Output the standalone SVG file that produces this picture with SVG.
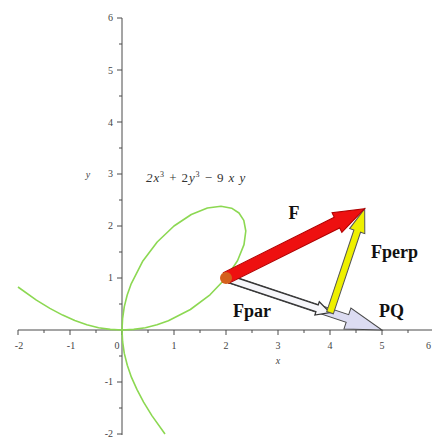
<svg xmlns="http://www.w3.org/2000/svg" width="432" height="441" viewBox="0 0 432 441">
<style>
.ax{stroke:#4a4a4a;stroke-width:1;fill:none}
.tk{font-family:"Liberation Serif",serif;font-size:10px;fill:#444}
.lab{font-family:"Liberation Serif",serif;font-size:18px;font-weight:bold;fill:#111}
.curve{fill:none;stroke:#8cd852;stroke-width:1.6;stroke-linejoin:round}
.math{font-family:"Liberation Serif",serif;font-size:13px;fill:#333;font-style:italic;letter-spacing:0.9px}
</style>
<rect width="432" height="441" fill="#fff"/>
<g id="axes">
<path class="ax" d="M18 330H432M122 18V435"/>
<path class="ax" d="M18 330v5M70 330v5M122 330v5M174 330v5M226 330v5M278 330v5M330 330v5M382 330v5M44 330v3M96 330v3M148 330v3M200 330v3M252 330v3M304 330v3M356 330v3M408 330v3"/>
<path class="ax" d="M117 18h5M117 70h5M117 122h5M117 174h5M117 226h5M117 278h5M117 382h5M117 434h5M119 44h3M119 96h3M119 148h3M119 200h3M119 252h3M119 304h3M119 356h3M119 408h3"/>
<g class="tk" text-anchor="middle">
<text x="19" y="349">-2</text><text x="71" y="349">-1</text><text x="117" y="349">0</text><text x="174" y="349">1</text><text x="226" y="349">2</text><text x="278" y="349">3</text><text x="330" y="349">4</text><text x="382" y="349">5</text><text x="431" y="349" text-anchor="end">6</text>
</g>
<g class="tk" text-anchor="end">
<text x="113" y="21">6</text><text x="113" y="74">5</text><text x="113" y="126">4</text><text x="113" y="177">3</text><text x="113" y="229">2</text><text x="113" y="281">1</text><text x="113" y="385">-1</text><text x="113" y="437">-2</text>
</g>
<text class="tk" x="278" y="364" text-anchor="middle" font-style="italic">x</text>
<text class="tk" x="88" y="178" text-anchor="middle" font-style="italic">y</text>
</g>
<g id="curve">
<path class="curve" d="M122 330L133.7 329.4L145.4 327.7L157 324.8L168.4 320.7L190.4 309.5L210 294.8L226 278L237.5 260.7L244 244.6L245.8 231L243.8 220.4L239 213L231.6 208.2L221 206.2L207.4 208L191.3 214.5L174 226L157.2 242L142.5 261.6L131.3 283.6L127.2 295L124.3 306.6L122.6 318.3L122 330"/>
<path class="curve" d="M18 287L36.4 300.1L49.9 308.4L62.6 315.1L74.8 320.6L86.8 324.7L98.6 327.7L110.3 329.4L122 330"/>
<path class="curve" d="M165 434L151.9 415.6L143.6 402.2L136.9 389.4L131.4 377.2L127.3 365.2L124.3 353.4L122.6 341.7L122 330"/>
</g>
<g id="formula">
<text class="math" x="146" y="182">2x<tspan font-size="8" dy="-5" font-style="normal">3</tspan><tspan dy="5" font-style="normal"> + 2</tspan>y<tspan font-size="8" dy="-5" font-style="normal">3</tspan><tspan dy="5" font-style="normal"> − 9</tspan> x y</text>
</g>
<g id="connectors">
<g id="PQ" transform="translate(226 278) rotate(18.43)">
<polygon points="0,-4 128,-4 128,-11 164.4,0 128,11 128,4 0,4" fill="#dcdcf2" stroke="#4a4a4a" stroke-width="1"/>
</g>
<g id="Fpar" transform="translate(226 278) rotate(18.43)">
<polygon points="0,-3.5 96,-3.5 96,-7 109.6,0 96,7 96,3.5 0,3.5" fill="#f6f6fa" stroke="#333" stroke-width="1.2"/>
</g>
<g id="Fperp" transform="translate(330 312.7) rotate(-71.55)">
<polygon points="0,-3.5 86,-3.5 86,-8 109.6,0 86,8 86,3.5 0,3.5" fill="#eef000" stroke="#555" stroke-width="1"/>
</g>
<g id="F" transform="translate(226 278) rotate(-26.55)">
<polygon points="0,-6 124,-6 124,-11 155,0 124,11 124,6 0,6" fill="#ee1010" stroke="#b00000" stroke-width="1"/>
</g>
</g>
<g id="P">
<circle cx="226" cy="278" r="6" fill="#d4601c"/>
</g>
<g id="labels">
<text class="lab" x="294" y="219" text-anchor="middle">F</text>
<text class="lab" x="371" y="258">Fperp</text>
<text class="lab" x="233" y="317">Fpar</text>
<text class="lab" x="379" y="317">PQ</text>
</g>
</svg>
